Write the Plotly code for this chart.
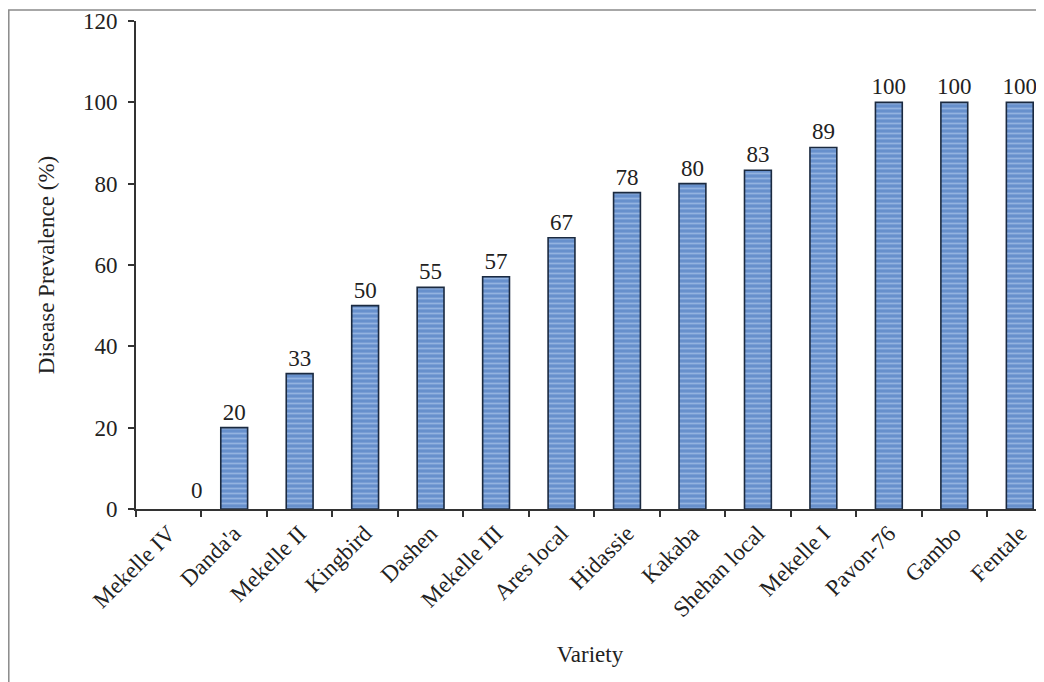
import plotly.graph_objects as go

varieties = ["Mekelle IV", "Danda'a", "Mekelle II", "Kingbird", "Dashen", "Mekelle III",
             "Ares local", "Hidassie", "Kakaba", "Shehan local", "Mekelle I", "Pavon-76",
             "Gambo", "Fentale"]
prevalence = [0, 20, 33.3, 50, 54.5, 57.1, 66.7, 77.8, 80, 83.3, 88.9, 100, 100, 100]
labels = ["0", "20", "33", "50", "55", "57", "67", "78", "80", "83", "89", "100", "100", "100"]
y_ticks = [0, 20, 40, 60, 80, 100, 120]

FONT = "Liberation Serif, Times New Roman, serif"
FS = 23
TXT = "#222222"

bar_text = [t if v > 0 else "" for t, v in zip(labels, prevalence)]
line_widths = [1.6 if v > 0 else 0 for v in prevalence]

fig = go.Figure()
fig.add_trace(go.Bar(
    x=varieties,
    y=prevalence,
    width=0.41,
    text=bar_text,
    textposition="outside",
    constraintext="none",
    cliponaxis=False,
    textfont=dict(family=FONT, size=FS, color=TXT),
    marker=dict(
        color="#6790cc",
        line=dict(color="#1b2a40", width=line_widths),
        pattern=dict(shape="-", fgcolor="#c0d6f3", bgcolor="#6790cc", size=5, solidity=0.35),
    ),
))

# zero-value label (placed beside the baseline, as in the original)
for v, t, val in zip(varieties, labels, prevalence):
    if val == 0:
        fig.add_annotation(x=v, y=val, text=t, showarrow=False, yanchor="bottom",
                           xshift=28, yshift=4,
                           font=dict(family=FONT, size=FS, color=TXT))

fig.update_layout(
    width=1036, height=674,
    margin=dict(l=128, r=0, t=13, b=173),
    paper_bgcolor="white",
    plot_bgcolor="white",
    showlegend=False,
    font=dict(family=FONT, size=FS, color=TXT),
    shapes=[dict(type="rect", xref="paper", yref="paper",
                 x0=-0.1401, x1=1.06, y0=-0.40, y1=1.0226,
                 line=dict(color="#8a8a8a", width=1.5), layer="below")],
)

fig.update_xaxes(
    range=[-0.5, 13.37],
    showline=True, linecolor="#333333", linewidth=1.6,
    ticks="outside", tickson="boundaries", ticklen=6, tickcolor="#333333", tickwidth=1.6,
    tickangle=-45,
    tickfont=dict(family=FONT, size=FS, color=TXT),
    title=dict(text="Variety", font=dict(family=FONT, size=FS, color=TXT), standoff=25),
    showgrid=False, zeroline=False,
)
fig.update_yaxes(
    range=[0, 120],
    tickvals=y_ticks,
    showline=True, linecolor="#333333", linewidth=1.6,
    ticks="outside", ticklen=6, tickcolor="#333333", tickwidth=1.6,
    ticklabelstandoff=6,
    tickfont=dict(family=FONT, size=FS, color=TXT),
    title=dict(text="Disease Prevalence (%)", font=dict(family=FONT, size=FS, color=TXT), standoff=22),
    showgrid=False, zeroline=False,
)

fig.write_html("out.html")
